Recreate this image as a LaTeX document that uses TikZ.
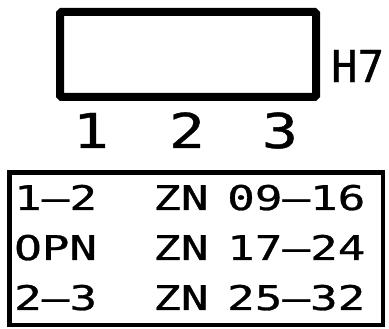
\documentclass[tikz,border=0pt]{standalone}
\usepackage{graphicx}
\usepackage{fontspec}
\newfontfamily\cadfont[FakeBold=0.8]{DejaVu Sans Mono}
\newcommand\Wide[2]{\scalebox{#1}[1]{#2}}
\newcommand\LegendRow[4]{%
    \node[anchor=base west] (#1Pos) at (14,#2) {\Wide{1.35}{#3}};
    \node[anchor=base west] (#1Zone) at (153,#2) {\Wide{1.35}{ZN}};
    \node[anchor=base west] (#1Range) at (227,#2) {\Wide{1.35}{#4}};
}

\begin{document}
\begin{tikzpicture}[x=1pt,y=1pt,inner sep=0pt,font=\cadfont]
    \useasboundingbox (0,0) rectangle (389,329);
    % jumper block
    \draw[line width=8pt,rounded corners=1.5pt] (60,317) coordinate(BlockNW) rectangle (316,232) coordinate(BlockSE);
    \node[anchor=west,font=\cadfont\fontsize{44}{44}\selectfont] (Tag) at (331,263) {H7};
    \begin{scope}[font=\cadfont\fontsize{48}{48}\selectfont] % pins
        \node[anchor=base] (Pin1) at (91,181) {\Wide{1.25}{1}};
        \node[anchor=base] (Pin2) at (187,181) {\Wide{1.25}{2}};
        \node[anchor=base] (Pin3) at (280,181) {\Wide{1.25}{3}};
    \end{scope}
    % legend
    \draw[line width=4.5pt] (9.5,156.5) coordinate(LegendNW) rectangle (383,4) coordinate(LegendSE);
    \begin{scope}[font=\cadfont\fontsize{34}{34}\selectfont]
        \LegendRow{A}{119}{1–2}{09–16}
        \LegendRow{B}{69}{OPN}{17–24}
        \LegendRow{C}{19}{2–3}{25–32}
    \end{scope}
\end{tikzpicture}
\end{document}
